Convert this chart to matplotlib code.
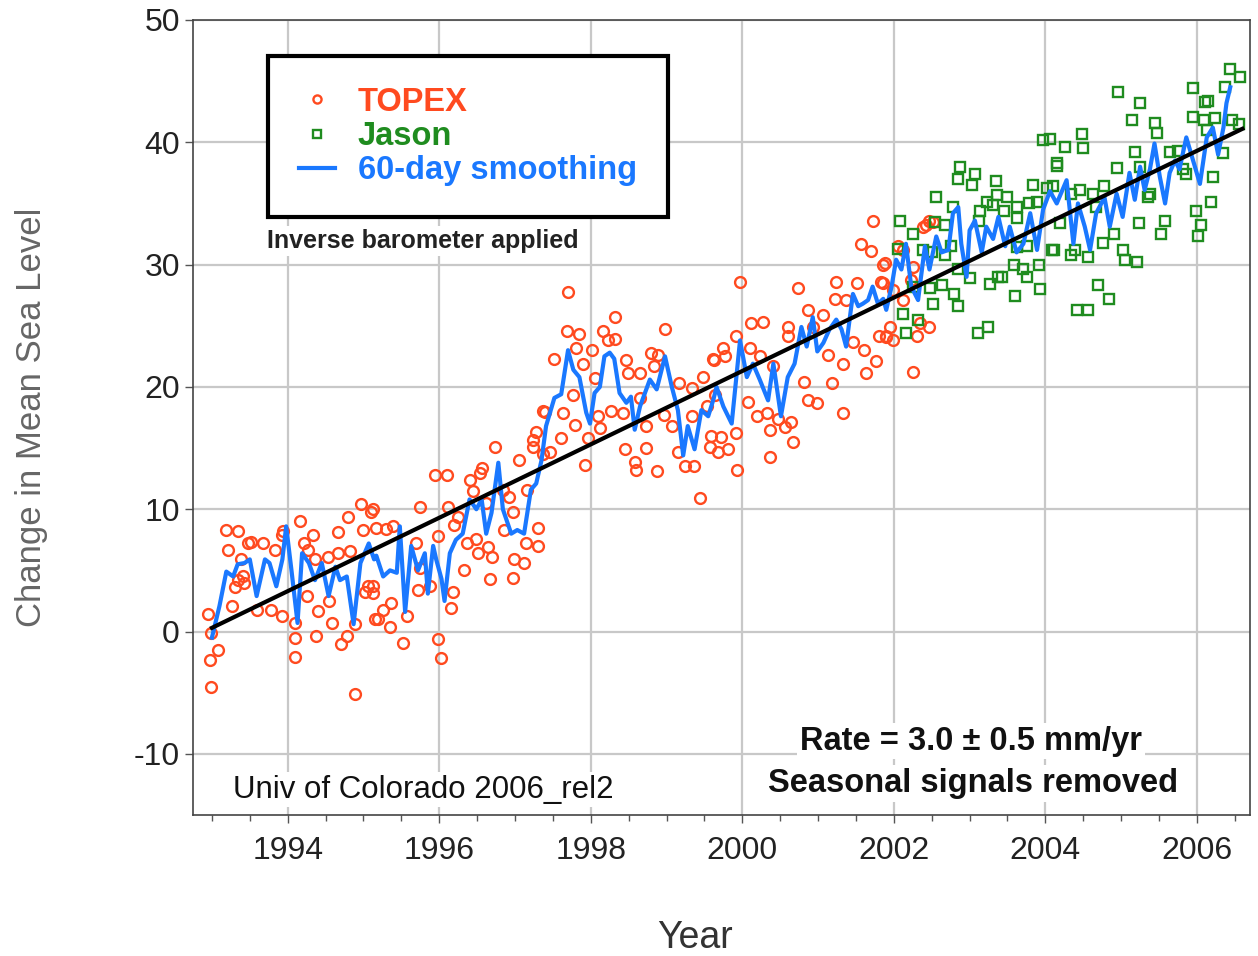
import numpy as np
import matplotlib
matplotlib.use('Agg')
import matplotlib.pyplot as plt
from matplotlib.ticker import MultipleLocator

# TOPEX cycles (year, mm)
topex_year = [1992.95, 1992.99, 1992.97, 1993.08, 1992.99, 1993.19, 1993.34, 1993.21, 1993.48, 1993.52,
              1993.67, 1993.39, 1993.83, 1993.92, 1993.30, 1993.43, 1993.26, 1993.59, 1993.78, 1993.92,
              1994.09, 1994.09, 1994.09, 1994.16, 1993.94, 1994.22, 1994.33, 1994.27, 1994.36, 1994.25,
              1994.40, 1994.55, 1994.38, 1994.58, 1994.71, 1994.78, 1994.89, 1994.66, 1994.80, 1994.53,
              1994.66, 1994.82, 1994.97, 1994.99, 1995.10, 1995.06, 1995.02, 1995.15, 1994.89, 1993.34,
              1993.41,
              1995.13, 1995.17, 1995.30, 1995.39, 1995.74, 1995.94, 1996.10, 1996.12, 1995.13, 1995.13,
              1995.37, 1995.26, 1995.19, 1995.35, 1995.57, 1995.52, 1995.70, 1995.74, 1995.72, 1995.88,
              1995.99, 1995.99, 1996.03, 1996.16, 1996.18, 1996.20, 1996.25, 1996.36, 1996.33, 1996.40,
              1996.45, 1996.49, 1996.51, 1996.56, 1996.54, 1996.62, 1996.65, 1996.69, 1996.67, 1996.73,
              1996.84, 1996.86, 1996.92, 1996.97, 1996.99, 1996.97, 1997.05, 1997.12, 1997.16, 1997.14,
              1997.24, 1997.24, 1997.28, 1997.30, 1997.30, 1997.37, 1997.37,
              1997.52, 1997.70, 1997.68, 1997.85, 1997.81, 1998.01, 1998.16, 1998.32, 1998.32, 1998.23,
              1997.90, 1998.05, 1997.77, 1997.63, 1997.39, 1997.61, 1997.46, 1997.79, 1998.10, 1998.12,
              1997.96, 1997.92, 1998.45, 1998.27, 1998.47, 1998.49, 1998.65, 1998.65, 1998.43, 1998.58,
              1998.60, 1998.73, 1998.73, 1998.80, 1998.89, 1998.84, 1998.98, 1998.87, 1998.96, 1999.07,
              1999.17, 1999.33, 1999.15, 1999.24, 1999.36, 1999.33, 1999.44, 1999.48, 1999.53, 1999.59,
              1999.57, 1999.61, 1999.64, 1999.68,
              1999.97, 1999.92, 1999.75, 1999.62, 1999.77, 2000.10, 2000.12, 2000.27, 2000.23, 2000.41,
              2000.08, 2000.19, 2000.32, 2000.36, 2000.47, 2000.56, 2000.64, 2000.67, 2000.36, 1999.93,
              1999.92, 1999.72, 1999.81, 2000.60, 2000.60, 2000.73, 2000.87, 2000.93, 2001.07, 2000.82,
              2000.87, 2000.98, 2001.13, 2001.18, 2001.24, 2001.22, 2001.37, 2001.33, 2001.46, 2001.33,
              2001.51, 2001.57, 2001.70, 2001.61, 2001.63, 2001.77, 2001.83, 2001.86, 2001.81, 2001.90,
              2001.72,
              2002.39, 2002.47, 2002.06, 2002.12, 2001.88, 2001.86, 2001.99, 2002.25, 2002.23, 2002.12,
              2001.95, 2001.90, 2001.99, 2002.30, 2002.47, 2002.34, 2002.43, 2002.25, 2002.52]
topex_mm = [1.4, -0.1, -2.3, -1.5, -4.5, 8.3, 8.2, 6.7, 7.2, 7.3,
            7.2, 5.9, 6.7, 7.9, 3.6, 4.0, 2.1, 1.8, 1.8, 1.25,
            0.7, -0.5, -2.1, 9.0, 8.2, 7.2, 7.9, 6.7, 5.9, 2.9,
            1.7, 2.5, -0.4, 0.7, -1.06, -0.4, -5.1, 8.1, 9.4, 6.1,
            6.4, 6.6, 10.4, 8.3, 9.8, 3.7, 3.2, 1.0, 0.6, 4.2,
            4.5,
            10.0, 8.5, 8.4, 8.6, 10.2, 12.8, 12.8, 10.2, 3.7, 3.15,
            2.3, 1.8, 1.0, 0.4, 1.25, -0.9, 7.2, 5.2, 3.4, 3.7,
            7.8, -0.65, -2.15, 1.9, 3.2, 8.7, 9.4, 7.2, 5.0, 12.4,
            11.5, 7.6, 6.4, 13.4, 13.0, 10.5, 6.9, 6.1, 4.3, 15.1,
            11.6, 8.3, 11.0, 9.8, 5.9, 4.4, 14.0, 5.6, 11.6, 7.2,
            15.7, 15.1, 16.35, 8.5, 7.0, 18.0, 14.5,
            22.3, 27.8, 24.6, 24.3, 23.2, 23.0, 24.6, 25.7, 23.9, 23.8,
            21.9, 20.7, 19.3, 17.85, 17.98, 15.8, 14.7, 16.9, 17.6, 16.6,
            15.8, 13.6, 14.9, 18.0, 22.2, 21.1, 21.1, 19.1, 17.85, 13.9,
            13.2, 16.8, 15.0, 22.75, 22.6, 21.7, 24.7, 13.1, 17.7, 16.8,
            20.3, 19.9, 14.7, 13.5, 13.5, 17.6, 10.9, 20.8, 18.4, 16.0,
            15.1, 22.3, 19.35, 14.7,
            28.6, 24.2, 23.2, 22.2, 22.5, 23.2, 25.2, 25.3, 22.5, 21.7,
            18.8, 17.6, 17.9, 16.5, 17.4, 16.7, 17.1, 15.5, 14.3, 13.2,
            16.2, 15.9, 14.9, 24.9, 24.2, 28.05, 26.3, 24.9, 25.9, 20.4,
            18.9, 18.7, 22.6, 20.3, 28.6, 27.2, 27.1, 21.9, 23.7, 17.9,
            28.5, 31.7, 31.1, 23.0, 21.1, 22.1, 28.6, 30.0, 24.2, 24.2,
            33.6,
            33.1, 33.6, 31.5, 31.2, 30.1, 28.5, 27.9, 29.8, 28.7, 27.1,
            24.9, 24.1, 23.8, 24.2, 24.9, 25.2, 33.2, 21.2, 33.5]

# Jason cycles (year, mm)
jason_year = [2002.87, 2003.07, 2002.85, 2003.03, 2003.35, 2003.84, 2004.02, 2004.15, 2002.56, 2002.78,
              2003.23, 2003.36, 2003.49, 2003.31, 2003.62, 2003.78, 2003.89, 2003.14, 2003.45, 2003.62,
              2002.08, 2002.25, 2002.67, 2002.54, 2003.12, 2002.76, 2002.39, 2002.50, 2002.67, 2004.11,
              2003.62, 2003.76, 2002.85, 2002.25, 2003.00, 2003.58, 2003.71, 2003.76, 2003.91, 2003.43,
              2003.27, 2003.38, 2003.93, 2003.60, 2002.63, 2002.80, 2002.85, 2002.52, 2002.48, 2002.12,
              2002.32, 2002.16, 2003.11, 2003.24, 2002.06, 2003.97,
              2004.96, 2005.25, 2005.14, 2005.45, 2005.47, 2004.48, 2004.26, 2004.50, 2004.15, 2004.06,
              2005.18, 2005.64, 2005.75, 2004.94, 2005.25, 2005.82, 2005.86, 2005.95, 2005.95, 2006.11,
              2006.15, 2006.09, 2006.24, 2006.13, 2006.44, 2006.57, 2006.37, 2006.46, 2006.55, 2006.35,
              2006.21, 2006.19, 2005.99, 2006.06, 2006.02, 2005.38, 2005.36, 2005.58, 2005.53, 2005.23,
              2005.03, 2005.05, 2005.21, 2004.91, 2004.76, 2004.63, 2004.78, 2004.67, 2004.39, 2004.34,
              2004.56, 2004.09, 2004.19, 2004.46, 2004.34, 2004.10, 2004.69, 2004.84, 2004.42, 2004.56]
jason_mm = [38.0, 37.4, 37.0, 36.5, 36.8, 36.5, 36.3, 38.3, 35.5, 34.7,
            35.1, 35.7, 35.5, 34.9, 34.7, 35.0, 35.1, 34.4, 34.4, 33.8,
            33.6, 32.5, 33.2, 33.5, 33.6, 31.5, 31.2, 31.0, 30.8, 31.2,
            31.4, 31.5, 29.6, 28.2, 28.9, 30.0, 29.6, 29.0, 30.0, 29.0,
            28.4, 29.0, 28.0, 27.4, 28.3, 27.6, 26.6, 26.8, 28.1, 26.0,
            25.5, 24.4, 24.4, 24.9, 31.3, 40.2,
            44.1, 43.2, 41.8, 41.6, 40.8, 40.7, 39.6, 39.5, 38.1, 40.3,
            39.2, 39.2, 39.3, 37.9, 38.0, 37.8, 37.4, 44.4, 42.1, 43.3,
            43.4, 41.8, 42.0, 41.0, 46.0, 45.3, 44.5, 41.8, 41.5, 39.1,
            37.2, 35.1, 34.4, 33.2, 32.3, 35.8, 35.5, 33.6, 32.5, 33.4,
            31.2, 30.4, 30.2, 32.5, 31.8, 35.8, 36.4, 34.7, 31.2, 30.8,
            30.6, 31.2, 33.4, 36.1, 35.8, 36.4, 28.3, 27.2, 26.3, 26.3]

# 60-day smoothed series
smooth_year = [1993.00, 1993.10, 1993.19, 1993.28, 1993.34, 1993.43, 1993.50, 1993.59, 1993.70, 1993.76,
               1993.85, 1993.93, 1993.98, 1994.05, 1994.13, 1994.19, 1994.28, 1994.36, 1994.45, 1994.54,
               1994.63, 1994.69, 1994.78, 1994.87, 1994.96, 1995.07, 1995.14, 1995.17, 1995.26, 1995.35,
               1995.44, 1995.48, 1995.55, 1995.63, 1995.72, 1995.81, 1995.85, 1995.92, 1995.96, 1996.03,
               1996.07, 1996.14, 1996.22, 1996.31, 1996.40, 1996.49, 1996.56, 1996.62, 1996.69, 1996.78,
               1996.84, 1996.95, 1997.03, 1997.12, 1997.21, 1997.28, 1997.35, 1997.41, 1997.52, 1997.61,
               1997.70, 1997.77, 1997.85, 1997.94, 1997.99, 1998.05, 1998.12, 1998.18, 1998.25, 1998.31,
               1998.38, 1998.47, 1998.53, 1998.58, 1998.65, 1998.78, 1998.87, 1998.98, 1999.07, 1999.15,
               1999.22, 1999.28, 1999.37, 1999.46, 1999.55, 1999.62, 1999.66, 1999.75, 1999.86, 1999.97,
               2000.06, 2000.14, 2000.23, 2000.34, 2000.41, 2000.51, 2000.60, 2000.69, 2000.78, 2000.85,
               2000.93, 2000.99, 2001.07, 2001.15, 2001.24, 2001.31, 2001.37, 2001.46, 2001.53, 2001.59,
               2001.66, 2001.72, 2001.79, 2001.86, 2001.90, 2001.97, 2002.03, 2002.10, 2002.16, 2002.23,
               2002.32, 2002.41, 2002.47, 2002.56, 2002.63, 2002.72, 2002.78, 2002.85, 2002.89, 2002.96,
               2003.00, 2003.07, 2003.16, 2003.22, 2003.31, 2003.38, 2003.47, 2003.53, 2003.62, 2003.71,
               2003.80, 2003.89, 2003.97, 2004.06, 2004.15, 2004.28, 2004.37, 2004.43, 2004.52, 2004.59,
               2004.67, 2004.78, 2004.85, 2004.94, 2005.02, 2005.11, 2005.18, 2005.25, 2005.31, 2005.38,
               2005.44, 2005.51, 2005.58, 2005.64, 2005.71, 2005.77, 2005.86, 2005.95, 2006.04, 2006.13,
               2006.21, 2006.28, 2006.35, 2006.39, 2006.44]
smooth_mm = [-0.5, 2.1, 4.9, 4.5, 5.5, 5.6, 5.9, 2.9, 5.9, 5.6,
             3.7, 5.9, 8.6, 5.0, 0.7, 6.4, 5.6, 4.2, 5.6, 2.9,
             5.3, 4.2, 4.5, 0.6, 5.6, 7.2, 5.9, 6.2, 4.5, 5.0,
             4.8, 8.6, 1.6, 7.0, 5.0, 6.4, 3.1, 7.0, 5.9, 4.3,
             2.5, 6.4, 7.5, 8.0, 10.8, 10.0, 10.8, 8.0, 9.7, 13.8,
             10.0, 8.0, 8.3, 8.0, 11.6, 12.1, 14.0, 16.8, 19.1, 19.4,
             23.0, 21.4, 20.8, 17.9, 17.0, 19.5, 20.0, 22.5, 22.8, 22.3,
             19.5, 18.7, 19.2, 16.5, 18.4, 20.6, 19.8, 22.5, 20.0, 18.1,
             14.4, 16.8, 14.9, 18.1, 17.6, 19.0, 20.0, 18.4, 17.0, 23.8,
             20.8, 21.9, 20.6, 18.9, 21.9, 17.6, 20.8, 21.9, 24.9, 23.3,
             25.7, 22.9, 23.6, 24.7, 25.5, 24.7, 23.3, 27.6, 26.6, 26.8,
             27.1, 28.2, 26.8, 27.2, 26.3, 28.2, 30.4, 29.6, 31.7, 28.2,
             27.1, 31.5, 29.6, 32.3, 31.0, 31.2, 34.2, 34.7, 31.7, 29.0,
             32.8, 33.6, 31.0, 33.1, 32.1, 33.9, 31.5, 33.1, 31.0, 31.7,
             34.2, 31.2, 34.5, 36.0, 35.0, 36.9, 31.7, 35.0, 33.1, 31.2,
             34.2, 35.5, 33.1, 35.8, 33.9, 37.5, 35.3, 38.0, 36.1, 37.8,
             39.9, 37.2, 35.0, 37.5, 38.5, 37.8, 40.4, 38.5, 36.6, 40.4,
             41.2, 39.0, 41.2, 43.2, 44.5]

# linear fit, 3.0 mm/yr
trend_year = [1993.0, 2006.6]
trend_mm = [0.3, 41.1]

red = '#ff4a1f'
green = '#1f8c1f'
blue = '#1a78ff'


def draw_chart():
    plt.rcParams['font.family'] = ['Liberation Sans', 'DejaVu Sans']
    plt.rcParams['axes.unicode_minus'] = False
    fig = plt.figure(figsize=(12.58, 9.56), dpi=100)
    ax = fig.add_axes([0.1534, 0.1475, 0.8402, 0.8316])

    ax.plot(topex_year, topex_mm, 'o', color=red, fillstyle='none', markersize=7.8,
            markeredgewidth=1.7, label='TOPEX', zorder=3)
    ax.plot(jason_year, jason_mm, 's', color=green, fillstyle='none', markersize=7.2,
            markeredgewidth=1.7, label='Jason', zorder=3)
    ax.plot(smooth_year, smooth_mm, '-', color=blue, linewidth=3, label='60-day smoothing', zorder=4)
    ax.plot(trend_year, trend_mm, '-', color='black', linewidth=3, zorder=5)

    ax.set_xlim(1992.75, 2006.70)
    ax.set_ylim(-15, 50)
    ax.xaxis.set_major_locator(MultipleLocator(2))
    ax.xaxis.set_minor_locator(MultipleLocator(0.5))
    ax.yaxis.set_major_locator(MultipleLocator(10))
    ax.grid(True, which='major', color='#c8c8c8', linewidth=1.6, zorder=0)
    ax.set_axisbelow(True)
    ax.tick_params(axis='both', which='major', labelsize=23, labelcolor='#222222',
                   direction='out', length=6, width=1, color='#555555')
    ax.tick_params(axis='x', which='major', pad=9)
    ax.tick_params(axis='x', which='minor', direction='out', length=4, width=1, color='#555555')
    for s in ax.spines.values():
        s.set_color('#444444')
        s.set_linewidth(1.2)

    ax.set_xlabel('Year', fontsize=27, color='#333333')
    ax.xaxis.set_label_coords(0.475, -0.132)
    ax.set_ylabel('Change in Mean Sea Level', fontsize=25, color='#666666')
    ax.yaxis.set_label_coords(-0.137, 0.5)

    leg = ax.legend(loc='upper left', bbox_to_anchor=(0.071, 0.955, 0.378, 0.0), mode='expand',
                    borderaxespad=0, frameon=True, fancybox=False, framealpha=1, edgecolor='black',
                    labelcolor='linecolor', handlelength=1.1, handletextpad=0.7, borderpad=0.95,
                    labelspacing=0.1, markerscale=0.75, prop={'weight': 'bold', 'size': 23.5})
    leg.get_frame().set_linewidth(3)
    leg.set_zorder(10)

    box = dict(facecolor='white', edgecolor='none', pad=2)
    ax.text(0.070, 0.722, 'Inverse barometer applied', transform=ax.transAxes, fontsize=18,
            fontweight='bold', color='#222222', va='center', ha='left', bbox=box, zorder=6)
    ax.text(0.038, 0.032, 'Univ of Colorado 2006_rel2', transform=ax.transAxes, fontsize=22.5,
            color='#111111', va='center', ha='left', bbox=box, zorder=6)
    ax.text(0.736, 0.093, 'Rate = 3.0 \u00b1 0.5 mm/yr', transform=ax.transAxes, fontsize=23.5,
            fontweight='bold', color='#111111', va='center', ha='center', bbox=box, zorder=6)
    ax.text(0.738, 0.040, 'Seasonal signals removed', transform=ax.transAxes, fontsize=23.5,
            fontweight='bold', color='#111111', va='center', ha='center', bbox=box, zorder=6)

    fig.savefig('out.png', dpi=100)


if __name__ == '__main__':
    draw_chart()
